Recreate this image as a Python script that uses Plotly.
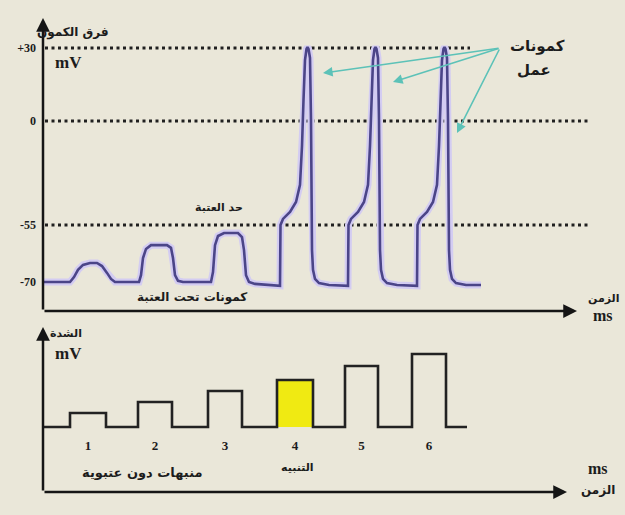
import numpy as np
import plotly.graph_objects as go

W, H = 625, 515

# ---------------- data ----------------
# membrane potential trace (time in ms, potential in mV) - schematic
mem_t = [0, 5.4, 6.2, 7.0, 8.0, 9.4, 10.8, 11.8, 12.8, 13.6, 14.4,
         19.2, 19.6, 20.0, 20.6, 21.6, 24.8, 25.6, 26.0, 26.4, 27.0, 28.0,
         33.6, 34.0, 34.4, 35.0, 36.2, 39.0, 39.8, 40.2, 40.6, 41.2, 42.4, 47.2,
         # action potential 1
         47.4, 47.5, 48.0, 49.4, 50.6, 51.4, 51.8, 52.1, 52.4, 52.7, 52.9, 53.1,
         53.4, 53.6, 53.7, 53.8, 54.0, 54.4, 55.2, 57.2,
         # action potential 2
         61.0, 61.1, 61.6, 63.0, 64.2, 65.0, 65.4, 65.7, 66.0, 66.3, 66.5, 66.7,
         67.0, 67.2, 67.3, 67.4, 67.6, 68.0, 68.8, 70.8,
         # action potential 3
         74.8, 74.9, 75.4, 76.8, 78.0, 78.8, 79.2, 79.5, 79.8, 80.1, 80.3, 80.5,
         80.8, 81.0, 81.1, 81.2, 81.4, 81.8, 82.6, 84.6, 87.6]
mem_mv = [-70, -70, -68.7, -66.8, -65.5, -65, -65, -65.8, -67.6, -69.2, -70,
          -70, -68.2, -63.7, -61.3, -60.3, -60.3, -61, -63.7, -68.2, -69.7, -70,
          -70, -67.4, -60.3, -57.9, -57.1, -57.1, -58.2, -61.6, -68.2, -70, -70.5, -70.8,
          -71, -55, -51.8, -48.1, -42.8, -33.8, -13.2, 8.6, 25, 29.6, 30.4, 29.6,
          25.9, 0.4, -31.2, -61.6, -66.8, -69.2, -70.3, -70.8,
          -71, -55, -51.8, -48.1, -42.8, -33.8, -13.2, 8.6, 25, 29.6, 30.4, 29.6,
          25.9, 0.4, -31.2, -61.6, -66.8, -69.2, -70.3, -70.8,
          -71, -55, -51.8, -48.1, -42.8, -33.8, -13.2, 8.6, 25, 29.6, 30.4, 29.6,
          25.9, 0.4, -31.2, -61.6, -66.8, -69.2, -70.3, -70.8, -70.8]

# reference levels (mV) and their tick labels
level_mv = [30, 0, -55, -70]
level_labels = ["+30", "0", "-55", "-70"]
level_end_t = [85.4, 109.4, 109.4, None]

# stimuli
stim_labels = ["1", "2", "3", "4", "5", "6"]
stim_on = [5.4, 19.0, 33.0, 46.8, 60.4, 73.8]
stim_off = [12.6, 25.8, 39.8, 54.0, 67.0, 80.6]
stim_amp = [14, 25, 36, 47, 61, 73]
stim_end = 84.8
threshold_idx = 3

# schematic (non-linear) potential scale used by the drawing
MV_KNOTS = [-80, -70, -55, 0, 30, 45]
D_KNOTS = [-38, 0, 57, 161, 234, 270.5]


def warp(v):
    return np.interp(v, MV_KNOTS, D_KNOTS)


def P(x, y):
    return x / W, 1 - y / H


AR = "DejaVu Sans"
SERIF = "Liberation Serif"
INK = "#1c1c1c"

fig = go.Figure()

# dotted reference lines
for mv, te in zip(level_mv, level_end_t):
    if te is None:
        continue
    fig.add_trace(go.Scatter(x=[0.4, te], y=[warp(mv)] * 2, mode="lines",
                             line=dict(color="#202020", width=3, dash="3px,3.5px"),
                             hoverinfo="skip", showlegend=False, xaxis="x", yaxis="y"))

# membrane trace: halo + line
yd = warp(np.array(mem_mv))
fig.add_trace(go.Scatter(x=mem_t, y=yd, mode="lines",
                         line=dict(color="#d3ccf2", width=7), hoverinfo="skip",
                         showlegend=False, xaxis="x", yaxis="y"))
fig.add_trace(go.Scatter(x=mem_t, y=yd, mode="lines",
                         line=dict(color="#4b4588", width=2.6), showlegend=False,
                         xaxis="x", yaxis="y"))

# stimulus trace
sx, sy = [0], [0]
for a, b, h in zip(stim_on, stim_off, stim_amp):
    sx += [a, a, b, b]
    sy += [0, h, h, 0]
sx.append(stim_end)
sy.append(0)
i = threshold_idx
fig.add_trace(go.Scatter(x=[stim_on[i], stim_on[i], stim_off[i], stim_off[i]],
                         y=[0, stim_amp[i], stim_amp[i], 0], fill="toself",
                         fillcolor="#f0ea12", line=dict(width=0), mode="lines",
                         hoverinfo="skip", showlegend=False, xaxis="x2", yaxis="y2"))
fig.add_trace(go.Scatter(x=sx, y=sy, mode="lines", line=dict(color="#222", width=2.6),
                         showlegend=False, xaxis="x2", yaxis="y2"))
fig.add_trace(go.Scatter(x=[(a + b) / 2 for a, b in zip(stim_on, stim_off)],
                         y=[-20] * len(stim_labels), mode="text", text=stim_labels,
                         textfont=dict(family=SERIF, size=13, color=INK, weight="bold"),
                         showlegend=False, xaxis="x2", yaxis="y2"))

ann = []


def arrow(x0, y0, x1, y1, xr, yr, color="#151515", width=2.5, head=2, size=1.1):
    ann.append(dict(x=x1, y=y1, ax=x0, ay=y0, xref=xr, yref=yr, axref=xr, ayref=yr,
                    text="", showarrow=True, arrowhead=head, arrowsize=size,
                    arrowwidth=width, arrowcolor=color))


# axes with arrows
arrow(0, -29, 0, 264, "x", "y")
arrow(0, -29, 106.8, -29, "x", "y")
arrow(0, -65, 0, 100, "x2", "y2")
arrow(0, -65, 104.8, -65, "x2", "y2")

# teal arrows to action potentials
apex = (91.4, warp(30))
for tx, tv in [(56, 19.7), (70, 16), (82.8, -6.3)]:
    arrow(apex[0], apex[1], tx, warp(tv), "x", "y", color="#5cc2b8", width=1.6, head=2, size=1.2)


def txt(s, x, y, fam=AR, size=12, bold=True):
    px, py = P(x, y)
    ann.append(dict(x=px, y=py, xref="paper", yref="paper", text=s, showarrow=False,
                    font=dict(family=fam, size=size, color=INK,
                              weight="bold" if bold else "normal"),
                    xanchor="center", yanchor="middle"))


txt("فرق الكمون", 73, 32, size=12)
txt("mV", 68, 62, fam=SERIF, size=17)
txt("كمونات", 537, 46, size=15)
txt("عمل", 534, 70, size=15)
txt("حد العتبة", 219, 207, size=11)
txt("كمونات تحت العتبة", 192, 297, size=12)
txt("الزمن", 603, 298, size=11)
txt("ms", 603, 315, fam=SERIF, size=16)
txt("الشدة", 66, 333, size=11)
txt("mV", 68, 353, fam=SERIF, size=17)
txt("منبهات دون عتبوية", 142, 472, size=13)
txt("التنبيه", 297, 467, size=11)
txt("ms", 598, 468, fam=SERIF, size=16)
txt("الزمن", 598, 490, size=12)

xr = [-8.6, 116.4]
fig.update_layout(
    width=W, height=H, margin=dict(l=0, r=0, t=0, b=0),
    paper_bgcolor="#eae7d9", plot_bgcolor="rgba(0,0,0,0)",
    showlegend=False, annotations=ann,
    xaxis=dict(domain=[0, 1], range=xr, anchor="y", visible=False),
    yaxis=dict(domain=[1 - 311 / H, 1 - 14 / H], range=[-29, 268], anchor="free",
               position=43 / W, showgrid=False, zeroline=False, showline=False,
               ticks="", tickvals=[warp(v) for v in level_mv], ticktext=level_labels,
               ticklabelstandoff=7,
               tickfont=dict(family=SERIF, size=12, color=INK, weight="bold")),
    xaxis2=dict(domain=[0, 1], range=xr, anchor="y2", visible=False),
    yaxis2=dict(domain=[1 - 492 / H, 1 - 322 / H], range=[-65, 105], anchor="x2",
                visible=False),
)

fig.write_html("out.html", config={"displayModeBar": False},
               post_script="document.body.style.margin='0';"
                           "document.body.style.overflow='hidden';"
                           "document.body.style.background='#eae7d9';")
